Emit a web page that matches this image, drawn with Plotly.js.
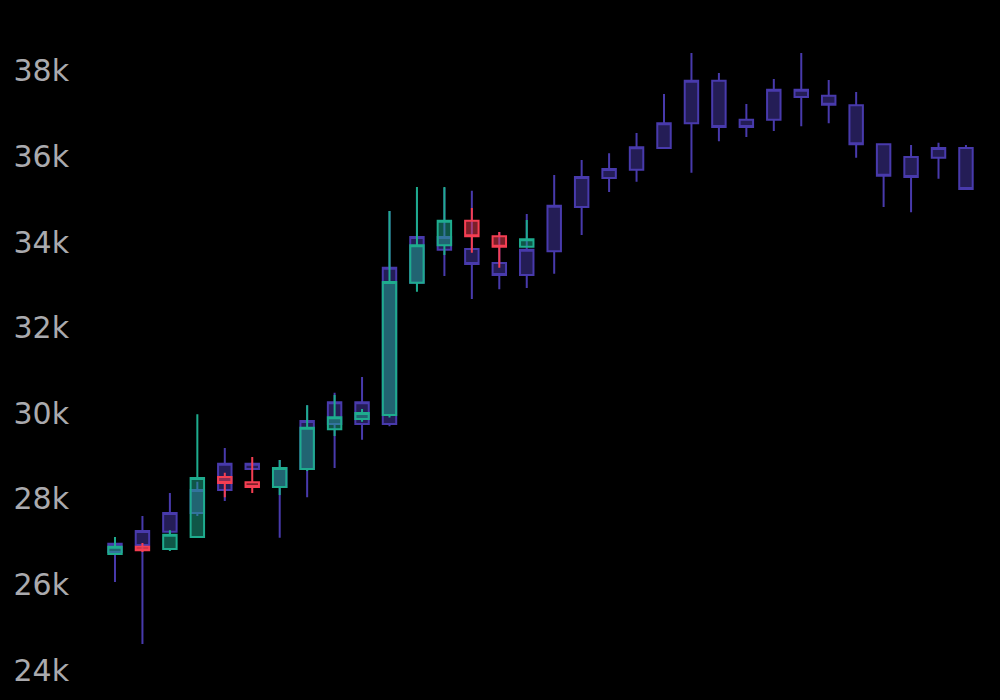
<!DOCTYPE html>
<html>
<head>
<meta charset="utf-8">
<script src="https://cdn.plot.ly/plotly-3.0.1.min.js"></script>
<style>
html,body{margin:0;padding:0;background:#000;}
#chart{width:1000px;height:700px;}
</style>
</head>
<body>
<div id="chart"></div>
<script>
// Dates (daily)
const dates = ['2023-10-12','2023-10-13','2023-10-14','2023-10-15','2023-10-16','2023-10-17','2023-10-18','2023-10-19',
  '2023-10-20','2023-10-21','2023-10-22','2023-10-23','2023-10-24','2023-10-25','2023-10-26','2023-10-27',
  '2023-10-28','2023-10-29','2023-10-30','2023-10-31','2023-11-01','2023-11-02','2023-11-03','2023-11-04',
  '2023-11-05','2023-11-06','2023-11-07','2023-11-08','2023-11-09','2023-11-10','2023-11-11','2023-11-12'];

// Series A (navy)
const openA  = [26760,26920,27230,27670,28210,28700,28280,28700,29750,29750,29750,33050,33820,33840,33510,33230,
  33790,34820,35500,35690,36200,36780,37770,36860,36860,37390,37420,37200,36290,35990,35970,36200];
const highA  = [27010,27600,28140,28400,29190,28850,28910,30190,30480,30850,34730,35200,35270,35200,34240,34660,
  35570,35920,36080,36550,37460,38420,37950,37230,37810,38420,37790,37510,36300,36270,36320,36270];
const lowA   = [26060,24610,27160,27600,27950,28680,27090,28040,28720,29380,29700,32900,33210,32670,32900,32930,
  33260,34170,35170,35410,36180,35620,36360,36460,36600,36710,36780,35970,34820,34700,35480,35240];
const closeA = [26950,27250,27670,28210,28820,28820,28720,29820,30260,30260,33400,34120,34120,33490,33230,33820,
  34850,35520,35710,36220,36780,37770,36690,36690,37560,37560,37210,36290,35550,35520,36200,35240];

// Series B (teal / red), first 16 dates
const openB  = [26710,26880,26830,27110,28510,28390,28280,28700,29630,29870,29960,33050,33930,34500,34140,33890];
const highB  = [27110,26970,27270,29980,28610,28980,28910,30190,30430,30100,34730,35290,35290,34800,34240,34520];
const lowB   = [26690,26760,26780,27090,28040,28140,28090,28650,29470,29800,29900,32840,33700,33750,33400,33880];
const closeB = [26880,26800,27160,28490,28370,28280,28720,29660,29910,30010,33070,33930,34500,34140,33890,34070];

const navy = 'rgb(72,58,172)';
const teal = 'rgb(30,172,142)';
const red  = 'rgb(245,62,82)';

const traceA = {
  type: 'candlestick',
  x: dates, open: openA, high: highA, low: lowA, close: closeA,
  increasing: {line: {color: navy, width: 2}},
  decreasing: {line: {color: navy, width: 2}},
  showlegend: false, hoverinfo: 'skip'
};
const traceB = {
  type: 'candlestick',
  x: dates.slice(0, openB.length), open: openB, high: highB, low: lowB, close: closeB,
  increasing: {line: {color: teal, width: 2}},
  decreasing: {line: {color: red, width: 2}},
  showlegend: false, hoverinfo: 'skip'
};

const DAY = 86400000;
const t0 = Date.parse(dates[0] + 'T00:00:00Z');
const fmt = t => new Date(t).toISOString().replace('T', ' ').replace('Z', '');

const layout = {
  width: 1000, height: 700,
  paper_bgcolor: '#000', plot_bgcolor: '#000',
  margin: {l: 70, r: 0, t: 24, b: 26},
  showlegend: false,
  xaxis: {
    visible: false,
    rangeslider: {visible: false},
    range: [fmt(t0 - 1.639 * DAY), fmt(t0 + 32.24 * DAY)]
  },
  yaxis: {
    range: [23908, 39098],
    dtick: 2000,
    showgrid: false, zeroline: false, showline: false,
    ticks: '',
    tickfont: {family: 'DejaVu Sans', size: 30, color: '#aaaaae'}
  }
};

Plotly.newPlot('chart', [traceA, traceB], layout, {displayModeBar: false, staticPlot: true});
</script>
</body>
</html>
